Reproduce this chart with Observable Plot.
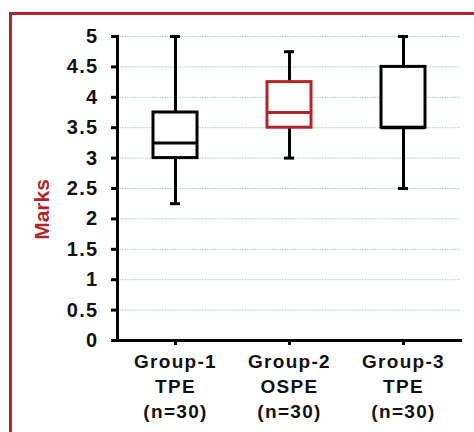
<!DOCTYPE html>
<html>
<head>
<meta charset="utf-8">
<script src="https://cdn.jsdelivr.net/npm/d3@7"></script>
<script src="https://cdn.jsdelivr.net/npm/@observablehq/plot@0.6"></script>
<style>
  html, body { margin: 0; padding: 0; background: #fff; overflow: hidden; }
  #wrap { position: relative; width: 474px; height: 432px; }
  #frame { position: absolute; left: 9px; top: 12px; width: 600px; height: 600px;
           border-left: 3px solid #b3242a; border-top: 3px solid #b3242a; box-sizing: border-box; }
  #chart { position: absolute; left: 0; top: 0; }
  #chart g[aria-label="y-axis tick label"] text { letter-spacing: 1.3px; }
  #chart g[aria-label="x-axis tick label"] text { letter-spacing: 1.3px; }
</style>
</head>
<body>
<div id="wrap"><div id="frame"></div><div id="chart"></div></div>
<script>
const groups = ["Group-1\nTPE\n(n=30)", "Group-2\nOSPE\n(n=30)", "Group-3\nTPE\n(n=30)"];
const mins = [2.25, 3, 2.5];
const q1s = [3, 3.5, 3.5];
const medians = [3.25, 3.75, 3.5];
const q3s = [3.75, 4.25, 4.5];
const maxs = [5, 4.75, 5];
const yTicks = [0, 0.5, 1, 1.5, 2, 2.5, 3, 3.5, 4, 4.5, 5];
const yTickLabels = ["0", "0.5", "1", "1.5", "2", "2.5", "3", "3.5", "4", "4.5", "5"];
const highlighted = ["Group-2\nOSPE\n(n=30)"];

const RED = "#b3242a";
const data = groups.map((g, i) => ({g, min: mins[i], q1: q1s[i], med: medians[i], q3: q3s[i], max: maxs[i]}));
const boxColor = d => highlighted.includes(d.g) ? RED : "black";
const font = "'Liberation Sans', Arial, sans-serif";

const plot = Plot.plot({
  width: 474,
  height: 432,
  marginLeft: 117,
  marginRight: 14,
  marginTop: 36,
  marginBottom: 92,
  style: {fontFamily: font, background: "transparent", overflow: "visible"},
  x: {type: "band", domain: groups, padding: 0, label: null},
  y: {domain: [0, 5], label: null},
  marks: [
    Plot.ruleY(yTicks.filter(v => v > 0), {stroke: "#a9d0c6", strokeWidth: 1, strokeDasharray: "1.5,1"}),
    Plot.axisY({ticks: yTicks, tickFormat: (d) => yTickLabels[yTicks.indexOf(d)], tickSize: 6, tickPadding: 13,
      stroke: "black", strokeWidth: 3, fontSize: 20, fontWeight: "bold", fill: "#111", label: null}),
    Plot.axisX({tickSize: 5, tickPadding: 5, strokeWidth: 3, stroke: "black", fontSize: 19, fontWeight: "bold",
      lineHeight: 1.32, fill: "#111", label: null}),
    Plot.ruleX(data, {x: "g", y1: "min", y2: "q1", stroke: "black", strokeWidth: 3}),
    Plot.ruleX(data, {x: "g", y1: "q3", y2: "max", stroke: "black", strokeWidth: 3}),
    Plot.tickY(data, {x: "g", y: "min", inset: 52, stroke: "black", strokeWidth: 3}),
    Plot.tickY(data, {x: "g", y: "max", inset: 52, stroke: "black", strokeWidth: 3}),
    Plot.barY(data, {x: "g", y1: "q1", y2: "q3", insetLeft: 35, insetRight: 35, fill: "white", stroke: boxColor, strokeWidth: 3}),
    Plot.tickY(data, {x: "g", y: "med", inset: 35, stroke: boxColor, strokeWidth: 3}),
    Plot.frame({anchor: "left", stroke: "black", strokeWidth: 3}),
    Plot.frame({anchor: "bottom", stroke: "black", strokeWidth: 3}),
    Plot.text(["Marks"], {frameAnchor: "left", textAnchor: "middle", dx: -75, dy: 21, rotate: -90, fill: RED, fontSize: 21, fontWeight: "bold"})
  ]
});
document.getElementById("chart").appendChild(plot);
</script>
</body>
</html>
